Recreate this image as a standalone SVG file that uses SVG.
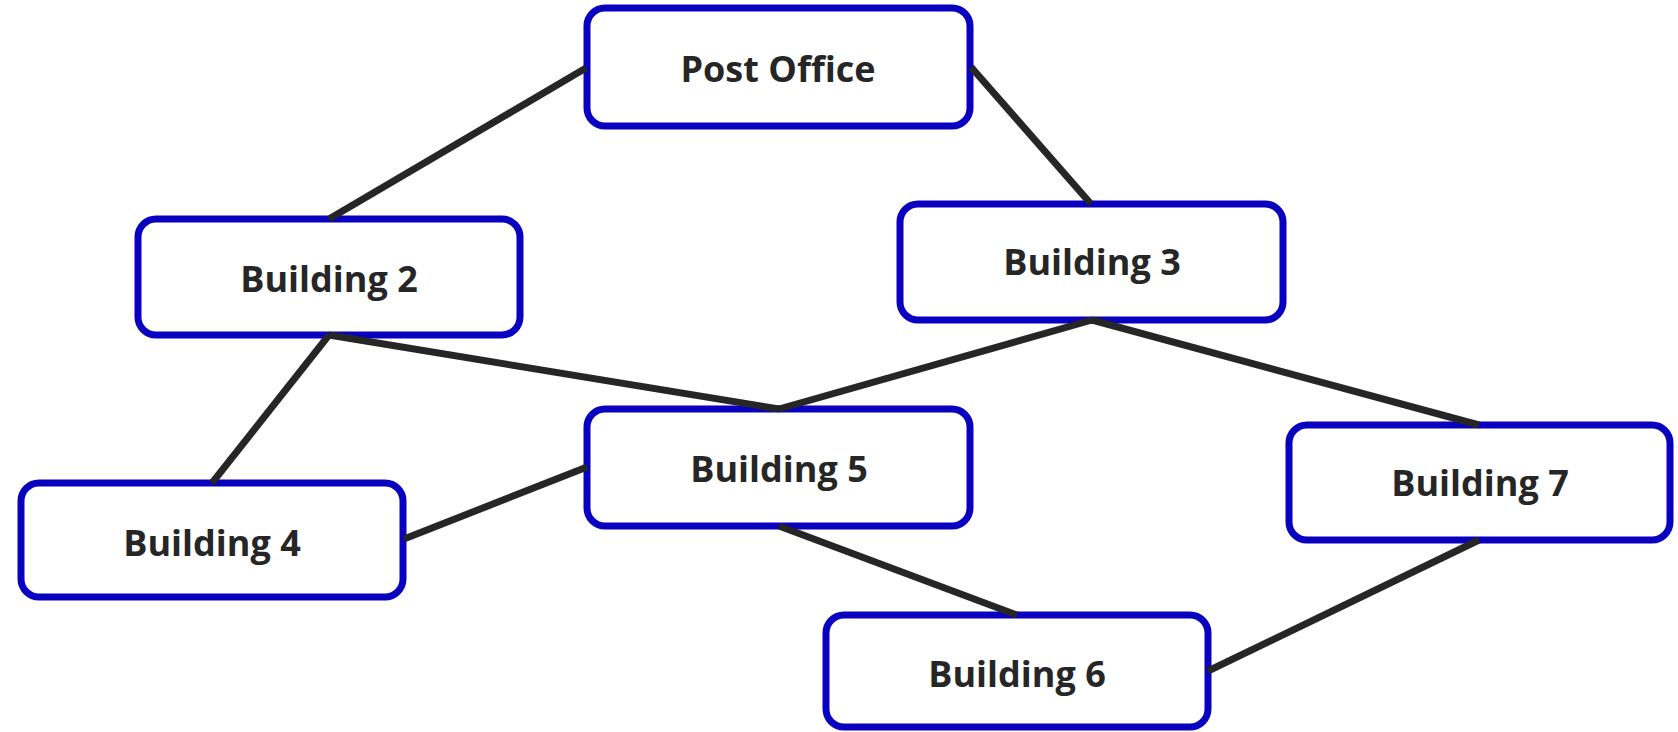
<svg xmlns="http://www.w3.org/2000/svg" width="1678" height="732" viewBox="0 0 1678 732">
<style>
.box{fill:#fff;stroke:#0a00c0;stroke-width:7}
.lbl{font-family:"Open Sans","Liberation Sans",sans-serif;font-weight:bold;font-size:36px;fill:#262626;text-anchor:middle}
.edge{stroke:#262626;stroke-width:7;fill:none;stroke-linecap:butt}
</style>
<rect width="1678" height="732" fill="#fff"/>
<g id="post-office"><rect class="box" x="587" y="8" width="383" height="118" rx="18"/><text class="lbl" x="778" y="82">Post Office</text></g>
<g id="building-2"><rect class="box" x="138" y="219" width="382" height="116" rx="18"/><text class="lbl" x="329" y="292">Building 2</text></g>
<g id="building-3"><rect class="box" x="900" y="204" width="383" height="116" rx="18"/><text class="lbl" x="1092" y="275">Building 3</text></g>
<g id="building-4"><rect class="box" x="21" y="483" width="382" height="114" rx="18"/><text class="lbl" x="212" y="556">Building 4</text></g>
<g id="building-5"><rect class="box" x="587" y="409" width="383" height="117" rx="18"/><text class="lbl" x="779" y="482">Building 5</text></g>
<g id="building-6"><rect class="box" x="826" y="615" width="382" height="112" rx="18"/><text class="lbl" x="1017" y="687">Building 6</text></g>
<g id="building-7"><rect class="box" x="1289" y="425" width="381" height="115" rx="18"/><text class="lbl" x="1480" y="496">Building 7</text></g>
<g id="connectors">
<line class="edge" x1="586" y1="68" x2="329" y2="219"/>
<line class="edge" x1="971" y1="67" x2="1091" y2="204"/>
<line class="edge" x1="329" y1="335" x2="212" y2="483"/>
<line class="edge" x1="329" y1="335" x2="779" y2="409"/>
<line class="edge" x1="1092" y1="320" x2="779" y2="409"/>
<line class="edge" x1="1092" y1="320" x2="1479" y2="425"/>
<line class="edge" x1="404" y1="539" x2="587" y2="467"/>
<line class="edge" x1="779" y1="526" x2="1017" y2="615"/>
<line class="edge" x1="1479" y1="540" x2="1208" y2="671"/>
</g>
</svg>
